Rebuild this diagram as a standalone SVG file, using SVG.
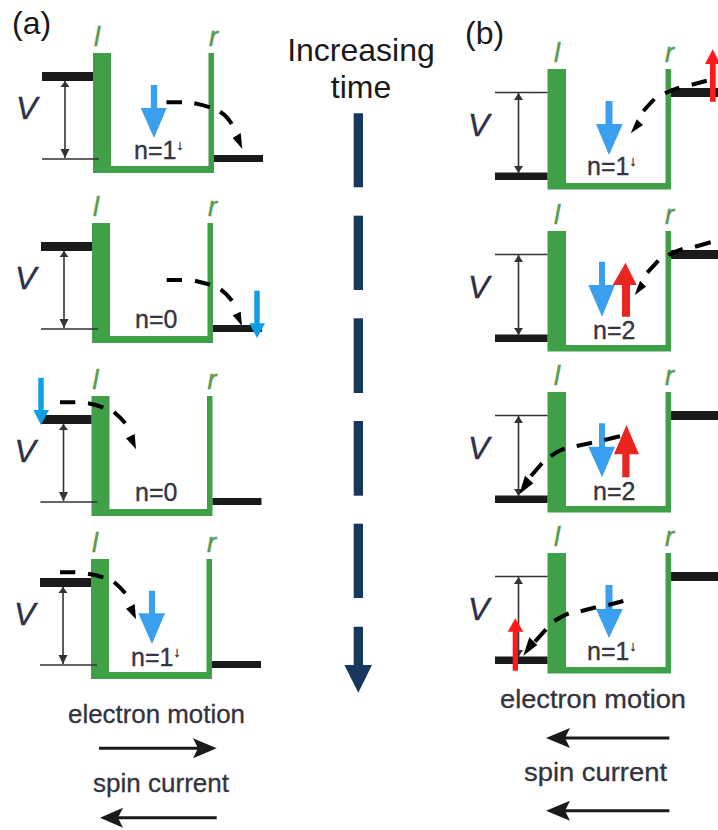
<svg xmlns="http://www.w3.org/2000/svg" xmlns:xlink="http://www.w3.org/1999/xlink" width="718" height="830" viewBox="0 0 718 830">
<style>
text{font-family:"Liberation Sans",Arial,sans-serif}
.hd{font-size:32px;fill:#1a1a1a}
.t{font-size:32px;fill:#1a1a1a;text-anchor:middle}
.lr{font-size:27px;font-style:italic;fill:#5a9c50;stroke:#5a9c50;stroke-width:.5px}
.v{font-size:32px;font-style:italic;fill:#2c3048;stroke:#2c3048;stroke-width:.4px}
.n{font-size:25px;fill:#35353f;stroke:#35353f;stroke-width:.35px}
.sup{font-size:14px}
.cap{font-size:26px;fill:#33333d;stroke:#33333d;stroke-width:.3px}
.well{fill:#3fa047}
.lev{fill:#1a1a1a}
.thin{stroke:#333;stroke-width:1.6;fill:none}
.tip{fill:#333}
.dash{stroke:#000;stroke-width:4;fill:none}
.head{fill:#000}
.blue{fill:#3a9fee}
.blue2{fill:#0d9ee8}
.red{fill:#e8261f}
.red2{fill:#ff1a1a}
.time{fill:#17375e}
.big{stroke:#1a1a1a;stroke-width:3;fill:none}
.bighead{fill:#1a1a1a}
</style>
<defs>
<g id="frameA">
<path class="well" d="M93 53H111V166H208.5V53H214V173H93Z"/>
<rect class="lev" x="42" y="72" width="51" height="9"/>
<rect class="lev" x="214" y="155" width="49" height="7"/>
<path class="thin" d="M42 159H99M65 81V158"/>
<path class="tip" d="M65 81L69.500 87H60.500ZM65 158L60.500 149H69.500Z"/>
</g>
<g id="frameB">
<path class="well" d="M547.500 69H566V183H665.500V69H671V189.500H547.500Z"/>
<rect class="lev" x="495" y="172.500" width="52.500" height="7.500"/>
<rect class="lev" x="671" y="88" width="47" height="9"/>
<path class="thin" d="M495 92.500H547.500M518.500 93V173"/>
<path class="tip" d="M518.500 93L523 100H514ZM518.500 173L514 166H523Z"/>
</g>
</defs>
<rect width="718" height="830" fill="#fff"/>
<text class="hd" x="12" y="34">(a)</text>
<text class="hd" x="465" y="44">(b)</text>
<g id="time-label">
<text class="t" x="361" y="61">Increasing</text>
<text class="t" x="361" y="97.500">time</text>
</g>
<g id="time-arrow">
<rect class="time" x="353.700" y="113.300" width="9.300" height="74"/>
<rect class="time" x="353.700" y="215.700" width="9.300" height="74.300"/>
<rect class="time" x="353.700" y="318.300" width="9.300" height="74.700"/>
<rect class="time" x="353.700" y="421" width="9.300" height="74.700"/>
<rect class="time" x="353.700" y="523.700" width="9.300" height="74.300"/>
<path class="time" d="M353.700 626.700H363V665H372L358.300 692.700L344.400 665H353.700Z"/>
</g>

<g id="panel-a1">
<use href="#frameA"/>
<text class="lr" x="94" y="46">l</text><text class="lr" x="209" y="46">r</text>
<text class="v" x="16" y="119">V</text>
<text class="n" x="134" y="159">n=1<tspan class="sup" dy="-9">↓</tspan></text>
<path class="blue" d="M150.800 85H157.200V108H166.700L154 138L140.700 108H150.800Z"/>
</g>
<g id="panel-a2">
<use href="#frameA" transform="translate(-1 170)"/>
<text class="lr" x="93" y="216">l</text><text class="lr" x="208" y="216">r</text>
<text class="v" x="15" y="289">V</text>
<text class="n" x="135" y="328">n=0</text>
<path class="blue2" d="M254.300 290.700H259.700V323.300H265L257 338L249.300 323.300H254.300Z"/>
</g>
<g id="panel-a3">
<use href="#frameA" transform="translate(-1.500 343)"/>
<text class="lr" x="92.500" y="389">l</text><text class="lr" x="207.500" y="389">r</text>
<text class="v" x="14.500" y="462">V</text>
<text class="n" x="135" y="501">n=0</text>
<path class="blue2" d="M38.300 377.700H43.700V410H49L41 425L33.300 410H38.300Z"/>
</g>
<g id="panel-a4">
<use href="#frameA" transform="translate(-2 506)"/>
<text class="lr" x="92" y="552">l</text><text class="lr" x="207" y="552">r</text>
<text class="v" x="14" y="625">V</text>
<text class="n" x="131" y="666">n=1<tspan class="sup" dy="-9">↓</tspan></text>
<path class="blue" d="M149 590.700H155V613.300H165L152 644L138.300 613.300H149Z"/>
</g>

<g id="panel-b1">
<use href="#frameB"/>
<text class="lr" x="554" y="62">l</text><text class="lr" x="665" y="62">r</text>
<text class="v" x="468" y="136">V</text>
<text class="n" x="587" y="175">n=1<tspan class="sup" dy="-9">↓</tspan></text>
<path class="blue" d="M605.500 101H612.500V124H622.700L609 155L596 124H605.500Z"/>
<path class="red2" d="M710 101.700V64H705L712.700 49.300L720 64H715.700V101.700Z"/>
</g>
<g id="panel-b2">
<use href="#frameB" transform="translate(0 162)"/>
<text class="lr" x="554" y="224">l</text><text class="lr" x="665" y="224">r</text>
<text class="v" x="468" y="298">V</text>
<text class="n" x="593" y="339">n=2</text>
<path class="blue" d="M599 261.700H605V285H615L602 316.700L588.300 285H599Z"/>
<path class="red" d="M622 316.700V285H612.700L625.500 262.700L636.700 285H630V316.700Z"/>
</g>
<g id="panel-b3">
<use href="#frameB" transform="translate(0 323)"/>
<text class="lr" x="554" y="385">l</text><text class="lr" x="665" y="385">r</text>
<text class="v" x="468" y="459">V</text>
<text class="n" x="593" y="500">n=2</text>
<path class="blue" d="M599 423.300H605V446.700H615L602 477.300L588.300 446.700H599Z"/>
<path class="red" d="M622.300 477.300V454.300H614L626.500 425L639 454.300H629.500V477.300Z"/>
</g>
<g id="panel-b4">
<use href="#frameB" transform="translate(0 484)"/>
<text class="lr" x="554" y="546">l</text><text class="lr" x="665" y="546">r</text>
<text class="v" x="468" y="620">V</text>
<text class="n" x="587" y="660">n=1<tspan class="sup" dy="-9">↓</tspan></text>
<path class="blue" d="M605.500 585H612.500V609H622.700L609 638L596 609H605.500Z"/>
<path class="red2" d="M512.700 670.700V631.700H507.700L515.300 618.300L523.300 631.700H518V670.700Z"/>
</g>

<g id="connectors">
<path class="dash" d="M166.500 102.300H182M194.300 103.300Q203 105 210 107.300M220 111.700Q227 116 231.700 124"/>
<path class="head" d="M242.300 149L232.700 138L240.700 133Z"/>
<path class="dash" d="M166.700 280H182M195 280.700Q203 282.500 210 284.700M220.700 289.300Q227 294 232 300.700"/>
<path class="head" d="M242 326L232.700 315.300L240.700 311.700Z"/>
<path class="dash" d="M60 402.300H75.300M88 403.300Q96 404.500 103.300 407.700M114 412Q120 417 125.300 423.300"/>
<path class="head" d="M136 449.300L126 438.300L134.700 434Z"/>
<path class="dash" d="M60 572.300H75.300M88 573.700Q96 575 103.300 577.300M114 582Q120 587 125.300 593.300"/>
<path class="head" d="M136 619.300L126 608.700L134.700 604Z"/>
<path class="dash" d="M706.700 80.700L691.700 84.700M679.300 87.700Q672 90 665 93.300M654.300 99L643.300 111"/>
<path class="head" d="M630.700 133.300L636.700 119.300L643 125Z"/>
<path class="dash" d="M710.700 242.300L695 246.700M682.700 249Q675 251.500 668.300 255M658.300 260.700L647.300 272.700"/>
<path class="head" d="M634.700 295L640 280.700L646 286.700Z"/>
<path class="dash" d="M620 436.300L604.300 440M592 442.700L576.700 446M564.700 448.300Q557 451.500 550.700 456M542 463.300L531 476"/>
<path class="head" d="M519.300 494.300L525 475.700L533.300 483.300Z"/>
<path class="dash" d="M623.300 601L608.300 605M596 607.300L580.700 611.300M568.700 613.300Q561 616.500 554.300 621M546 629.300L535 641.700"/>
<path class="head" d="M523.300 655.700L529.300 637.300L537.300 645Z"/>
</g>

<g id="legend-a">
<text class="cap" x="68" y="723" textLength="177" lengthAdjust="spacingAndGlyphs">electron motion</text>
<path class="big" d="M99 748.300H198"/>
<path class="bighead" d="M216.700 748.300L193 738.300L198 748.300L193 758.300Z"/>
<text class="cap" x="93" y="791.700" textLength="136" lengthAdjust="spacingAndGlyphs">spin current</text>
<path class="big" d="M118 817.700H216.700"/>
<path class="bighead" d="M100 817.700L123 807.700L118 817.700L123 827.700Z"/>
</g>
<g id="legend-b">
<text class="cap" x="500" y="707.700" textLength="186" lengthAdjust="spacingAndGlyphs">electron motion</text>
<path class="big" d="M565 738H669.300"/>
<path class="bighead" d="M546 738L570 728L565 738L570 748Z"/>
<text class="cap" x="524" y="780.700" textLength="143" lengthAdjust="spacingAndGlyphs">spin current</text>
<path class="big" d="M565 810.700H669.300"/>
<path class="bighead" d="M546 810.700L570 800.700L565 810.700L570 820.700Z"/>
</g>
</svg>
